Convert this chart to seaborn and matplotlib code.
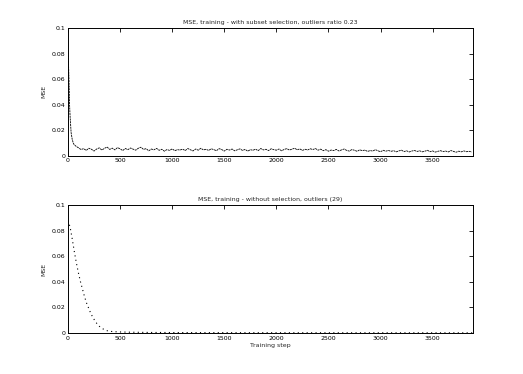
import numpy as np
import pandas as pd
import matplotlib
matplotlib.use("Agg")
import matplotlib.pyplot as plt
import seaborn as sns

# ---------------- data ----------------
top_title = "MSE, training - with subset selection, outliers ratio 0.23"
bottom_title = "MSE, training - without selection, outliers (29)"
y_label = "MSE"
x_label = "Training step"

x_ticks = [0, 500, 1000, 1500, 2000, 2500, 3000, 3500]
y_ticks = [0, 0.02, 0.04, 0.06, 0.08, 0.1]
y_tick_labels = ["0", "0.02", "0.04", "0.06", "0.08", "0.1"]
x_max = 3890

# top series: steep start then noisy plateau
top_head_epochs = [0, 5, 10, 15, 20, 25, 30, 40, 50, 60, 80]
top_head_values = [0.083, 0.072, 0.058, 0.040, 0.031, 0.024, 0.018, 0.013, 0.010, 0.0085, 0.0072]
top_tail_start, top_tail_step = 100, 25
top_tail_values = [
    0.0062, 0.0048, 0.0055, 0.0041, 0.0058, 0.0050, 0.0036, 0.0052, 0.0061, 0.0044,
    0.0057, 0.0068, 0.0049, 0.0059, 0.0045, 0.0063, 0.0054, 0.0040, 0.0056, 0.0047,
    0.0060, 0.0051, 0.0043, 0.0058, 0.0066, 0.0049, 0.0055, 0.0038, 0.0052, 0.0046,
    0.0057, 0.0042, 0.0050, 0.0035, 0.0048, 0.0041, 0.0053, 0.0039, 0.0047, 0.0044,
    0.0051, 0.0040, 0.0056, 0.0046, 0.0037, 0.0052, 0.0043, 0.0058, 0.0045, 0.0050,
    0.0041, 0.0054, 0.0047, 0.0039, 0.0055, 0.0048, 0.0036, 0.0050, 0.0044, 0.0052,
    0.0038, 0.0046, 0.0053, 0.0041, 0.0049, 0.0035, 0.0047, 0.0042, 0.0051, 0.0039,
    0.0056, 0.0045, 0.0050, 0.0040, 0.0054, 0.0047, 0.0043, 0.0052, 0.0038, 0.0049,
    0.0055, 0.0044, 0.0051, 0.0058, 0.0046, 0.0053, 0.0041, 0.0050, 0.0045, 0.0054,
    0.0048, 0.0056, 0.0043, 0.0051, 0.0039, 0.0047, 0.0035, 0.0044, 0.0040, 0.0049,
    0.0037, 0.0045, 0.0052, 0.0041, 0.0036, 0.0048, 0.0042, 0.0034, 0.0046, 0.0039,
    0.0044, 0.0033, 0.0040, 0.0036, 0.0047, 0.0038, 0.0031, 0.0042, 0.0035, 0.0041,
    0.0034, 0.0039, 0.0030, 0.0037, 0.0043, 0.0032, 0.0038, 0.0029, 0.0036, 0.0041,
    0.0033, 0.0038, 0.0030, 0.0035, 0.0042, 0.0031, 0.0037, 0.0028, 0.0034, 0.0039,
    0.0032, 0.0036, 0.0029, 0.0040, 0.0033, 0.0027, 0.0035, 0.0030, 0.0037, 0.0031,
    0.0034, 0.0029,
]

# bottom series: smooth decay
bottom_epochs = [0, 20, 40, 60, 80, 100, 120, 140, 160, 180, 200, 220, 240, 260,
                 280, 300, 320, 340, 360, 380, 400, 450, 500, 600, 700, 800, 900,
                 1000, 1200, 1500, 2000, 3000, 3890]
bottom_values = [0.088, 0.083, 0.074, 0.064, 0.055, 0.047, 0.040, 0.034, 0.028,
                 0.023, 0.019, 0.015, 0.012, 0.0092, 0.0070, 0.0052, 0.0040,
                 0.0029, 0.0021, 0.0016, 0.0012, 0.0009, 0.0007, 0.0005, 0.0004,
                 0.0003, 0.0003, 0.00025, 0.0002, 0.00015, 0.0001, 0.00005, 0.00003]

# ---------------- build tables ----------------
top_tail_epochs = list(top_tail_start + top_tail_step * np.arange(len(top_tail_values)))
top_df = pd.DataFrame({"epoch": top_head_epochs + top_tail_epochs,
                       "mse": top_head_values + top_tail_values})
bottom_df = pd.DataFrame({"epoch": bottom_epochs, "mse": bottom_values})

sns.set_style("white")
plt.rcParams["font.family"] = ["DejaVu Sans"]
fs = 4.5

fig = plt.figure(figsize=(5.23, 3.74), dpi=100)
ax1 = fig.add_axes([0.13, 0.5838, 0.775, 0.3412])
ax2 = fig.add_axes([0.13, 0.11, 0.775, 0.3412])

styles = [(0, (2.5, 0.8)), (0, (1, 3))]
widths = [0.6, 0.8]
for ax, df, title, ls, lw in [(ax1, top_df, top_title, styles[0], widths[0]),
                              (ax2, bottom_df, bottom_title, styles[1], widths[1])]:
    sns.lineplot(data=df, x="epoch", y="mse", ax=ax, color="black",
                 linewidth=lw, linestyle=ls, estimator=None)
    ax.set_xlim(0, x_max)
    ax.set_ylim(0, 0.1)
    ax.set_xticks(x_ticks)
    ax.set_xticklabels([str(t) for t in x_ticks], fontsize=fs)
    ax.set_yticks(y_ticks)
    ax.set_yticklabels(y_tick_labels, fontsize=fs)
    ax.tick_params(direction="in", length=3, width=0.6, top=True, right=True,
                   pad=2, colors="black")
    for s in ax.spines.values():
        s.set_visible(True)
        s.set_color("black")
        s.set_linewidth(0.7)
    ax.set_title(title, fontsize=fs, pad=3)
    ax.set_ylabel(y_label, fontsize=fs, labelpad=4)
    ax.set_xlabel("")

ax2.set_xlabel(x_label, fontsize=fs, labelpad=2)

fig.savefig("out.png", dpi=100, facecolor="white")
